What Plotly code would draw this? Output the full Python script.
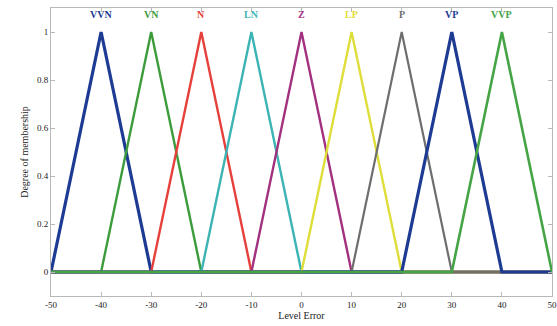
import plotly.graph_objects as go

names = ["VVN", "VN", "N", "LN", "Z", "LP", "P", "VP", "VVP"]
left = [-50, -40, -30, -20, -10, 0, 10, 20, 30]
peak = [-40, -30, -20, -10, 0, 10, 20, 30, 40]
right = [-30, -20, -10, 0, 10, 20, 30, 40, 50]
colors = ["#1d3b92", "#3c9c3c", "#e5403a", "#3cb4b4", "#a2317f",
          "#dede3a", "#6e6e6e", "#1d3b92", "#45a445"]
widths = [3.2, 2.4, 2.4, 2.4, 2.4, 2.4, 2.2, 3.2, 2.6]
x_ticks = [-50, -40, -30, -20, -10, 0, 10, 20, 30, 40, 50]
x_tick_labels = ["-50", "-40", "-30", "-20", "-10", "0", "10", "20", "30", "40", "50"]
y_ticks = [0, 0.2, 0.4, 0.6, 0.8, 1]
y_tick_labels = ["0", "0.2", "0.4", "0.6", "0.8", "1"]
x_min, x_max = -50, 50

fig = go.Figure()
for n, a, b, c, col, w in zip(names, left, peak, right, colors, widths):
    xs = [x_min, a, b, c, x_max]
    ys = [0, 0, 1, 0, 0]
    fig.add_trace(go.Scatter(x=xs, y=ys, mode="lines", name=n,
                             line=dict(color=col, width=w), showlegend=False,
                             hoverinfo="skip", cliponaxis=False))
    fig.add_annotation(x=b, y=1.075, text="<b>%s</b>" % n, showarrow=False,
                       font=dict(family="Liberation Serif", size=10, color=col),
                       xanchor="center", yanchor="middle")

axis_common = dict(showline=True, linecolor="#b8b8b8", linewidth=1, mirror="ticks",
                   ticks="inside", ticklen=4, tickcolor="#b8b8b8", showgrid=False,
                   zeroline=False, automargin=False,
                   tickfont=dict(family="Liberation Serif", size=9, color="#222222"))

fig.update_layout(
    width=557, height=326,
    margin=dict(l=51, r=5, t=8, b=30),
    paper_bgcolor="white", plot_bgcolor="white",
    xaxis=dict(range=[x_min, x_max], tickvals=x_ticks, ticktext=x_tick_labels,
               title=dict(text="Level Error", standoff=0,
                          font=dict(family="Liberation Serif", size=10, color="#222222")),
               **axis_common),
    yaxis=dict(range=[-0.1, 1.1], tickvals=y_ticks, ticktext=y_tick_labels,
               title=dict(text="Degree of membership", standoff=6,
                          font=dict(family="Liberation Serif", size=10, color="#222222")),
               **axis_common),
)

fig.write_html("out.html", config={"displayModeBar": False},
               post_script="document.body.style.margin='0';document.body.style.overflow='hidden';")
